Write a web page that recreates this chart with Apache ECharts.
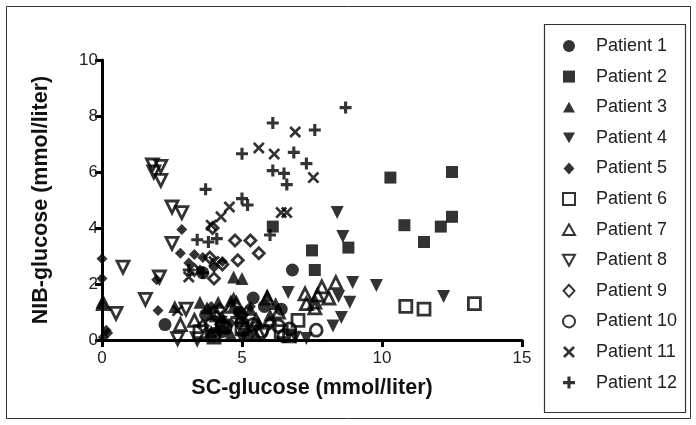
<!DOCTYPE html>
<html>
<head>
<meta charset="utf-8">
<script src="https://cdn.jsdelivr.net/npm/echarts@6/dist/echarts.min.js"></script>
<style>html,body{margin:0;padding:0;background:#fff}#c{width:696px;height:425px}</style>
</head>
<body>
<div id="c"></div>
<script>
const seriesNames = ['Patient 1','Patient 2','Patient 3','Patient 4','Patient 5','Patient 6','Patient 7','Patient 8','Patient 9','Patient 10','Patient 11','Patient 12'];
const xTicks = [0,5,10,15];
const yTicks = [0,2,4,6,8,10];

const p1 = [[2.25,0.55],[6.8,2.5],[5.4,1.5],[3.6,2.4],[4.9,1.0],[5.8,1.2],[4.3,0.3],[3.7,0.9],[5.2,0.2],[6.4,1.1]];
const p2 = [[6.1,4.05],[7.5,3.2],[7.6,2.5],[8.8,3.3],[10.3,5.8],[10.8,4.1],[11.5,3.5],[12.1,4.05],[12.5,4.4],[12.5,6.0]];
const p3 = [[0.0,1.35],[2.6,1.2],[3.5,1.35],[4.15,1.35],[4.6,1.4],[4.7,2.25],[5.0,2.2],[4.7,1.5],[3.75,1.15],[5.9,1.6],[5.3,1.1],[4.3,0.8],[6.2,1.3],[5.0,0.7],[3.9,0.3],[4.6,0.2],[5.5,0.2],[6.0,0.9],[4.4,0.45],[5.6,0.6]];
const p4 = [[8.4,4.55],[8.6,3.7],[8.95,2.05],[9.8,1.95],[8.45,1.55],[8.85,1.35],[8.55,0.8],[8.25,0.5],[6.65,1.7],[12.2,1.55],[7.3,0.05],[5.0,0.05],[4.0,0.1],[6.9,0.1]];
const p5 = [[0,2.9],[0,2.2],[0.15,0.35],[0.2,0.25],[0.05,0.1],[1.95,2.15],[2.0,1.05],[2.85,3.95],[2.8,3.1],[3.1,2.75],[3.5,2.5],[4.0,2.6],[4.3,2.8],[3.3,3.05],[3.9,1.2],[4.6,0.6],[5.3,1.2],[3.6,2.95]];
const p6 = [[10.85,1.2],[11.5,1.1],[13.3,1.3],[7.0,0.7],[6.7,0.15],[4.0,0.1],[6.4,0.3],[5.0,0.4],[3.5,0.3],[4.3,0.5]];
const p7 = [[0.05,1.3],[2.8,0.55],[3.3,0.7],[4.1,0.9],[4.6,1.2],[5.1,0.5],[5.9,1.5],[6.3,1.0],[7.25,1.65],[7.3,1.3],[7.6,1.15],[7.6,1.35],[7.7,1.6],[7.85,1.9],[8.1,1.5],[8.35,2.05],[5.5,0.7],[4.8,1.3]];
const p8 = [[1.8,6.25],[2.1,6.2],[1.85,6.0],[2.1,5.7],[2.5,4.75],[2.85,4.55],[2.5,3.45],[0.75,2.6],[2.05,2.25],[1.55,1.45],[0.5,0.95],[2.7,0.05],[3.4,0.05],[4.2,0.6],[5.8,0.3],[3.0,1.1]];
const p9 = [[3.95,4.0],[4.75,3.55],[5.3,3.55],[5.6,3.1],[4.85,2.85],[3.85,2.95],[4.3,2.7],[3.3,2.5],[4.0,2.2],[5.0,0.9],[5.5,0.5],[4.2,1.1],[6.0,0.6],[3.6,0.5]];
const p10 = [[7.65,0.35],[6.3,0.5],[5.4,0.55],[5.0,0.6],[4.4,0.45],[6.7,0.4],[5.7,0.3],[4.0,0.2],[6.5,0.15],[3.9,0.55]];
const p11 = [[6.9,7.43],[5.6,6.86],[6.15,6.64],[7.55,5.8],[6.4,4.55],[6.6,4.55],[4.55,4.75],[4.25,4.4],[3.9,4.1],[4.0,2.8],[3.1,2.25],[2.7,1.05],[5.0,1.0],[4.2,0.7]];
const p12 = [[8.7,8.3],[6.1,7.75],[7.6,7.5],[5.0,6.65],[6.85,6.7],[7.3,6.3],[6.1,6.05],[6.5,5.95],[6.6,5.55],[3.7,5.38],[5.0,5.05],[5.2,4.82],[6.0,3.75],[4.1,3.62],[3.4,3.58],[3.8,3.5],[3.1,2.5],[3.6,2.4],[4.8,0.8],[3.9,1.0]];

const allData = [p1,p2,p3,p4,p5,p6,p7,p8,p9,p10,p11,p12];

const RECT = 'path://M0,0 H10 V10 H0 Z';
const UP = 'path://M5,0 L10,9 L0,9 Z';
const DOWN = 'path://M0,0 L10,0 L5,9 Z';
const DIAM = 'path://M5,0 L10,5.5 L5,11 L0,5.5 Z';
const PLUS = 'path://M3.7,0 H6.3 V3.7 H10 V6.3 H6.3 V10 H3.7 V6.3 H0 V3.7 H3.7 Z';
const CROSS = 'path://M0,1.6 L1.6,0 L5,3.4 L8.4,0 L10,1.6 L6.6,5 L10,8.4 L8.4,10 L5,6.6 L1.6,10 L0,8.4 L3.4,5 Z';
const styles = [
  {symbol:'circle', size:13, open:false},
  {symbol:RECT, size:12, open:false},
  {symbol:UP, size:13, open:false},
  {symbol:DOWN, size:13, open:false},
  {symbol:DIAM, size:11, open:false},
  {symbol:RECT, size:12, open:true},
  {symbol:UP, size:12, open:true},
  {symbol:DOWN, size:12, open:true},
  {symbol:DIAM, size:11, open:true},
  {symbol:'circle', size:12, open:true},
  {symbol:CROSS, size:12, open:false},
  {symbol:PLUS, size:12, open:false}
];

const series = seriesNames.map((n,i)=>({
  name:n, type:'scatter', data:allData[i], clip:false,
  symbol:styles[i].symbol, symbolSize:styles[i].size,
  itemStyle: styles[i].open ? {color:'rgba(255,255,255,0)', borderColor:'#000', borderWidth:2.8} : {color:'#000', borderWidth:0},
  emphasis:{disabled:true}
}));

const chart = echarts.init(document.getElementById('c'), null, {renderer:'canvas'});
chart.setOption({
  animation:false,
  backgroundColor:'#fff',
  grid:{left:102, top:60, right:174, bottom:85, containLabel:false},
  xAxis:{type:'value', min:xTicks[0], max:xTicks[xTicks.length-1], interval:5,
    name:'SC-glucose (mmol/liter)', nameLocation:'middle', nameGap:37,
    nameTextStyle:{fontFamily:'Liberation Sans, Arial', fontWeight:'bold', fontSize:21.5, color:'#111'},
    axisLine:{lineStyle:{color:'#000', width:3}}, axisTick:{length:7, lineStyle:{color:'#000', width:3}},
    axisLabel:{fontFamily:'Liberation Sans, Arial', fontSize:17, color:'#222', margin:10},
    splitLine:{show:false}},
  yAxis:{type:'value', min:yTicks[0], max:yTicks[yTicks.length-1], interval:2,
    name:'NIB-glucose (mmol/liter)', nameLocation:'middle', nameGap:50,
    nameTextStyle:{fontFamily:'Liberation Sans, Arial', fontWeight:'bold', fontSize:21.5, color:'#111'},
    axisLine:{show:true, lineStyle:{color:'#000', width:3}}, axisTick:{show:true, length:7, lineStyle:{color:'#000', width:3}},
    axisLabel:{fontFamily:'Liberation Sans, Arial', fontSize:17, color:'#222', margin:4},
    splitLine:{show:false}},
  legend:{orient:'vertical', left:557, top:32, itemWidth:12, itemHeight:12, itemGap:12.6,
    selectedMode:false,
    textStyle:{fontFamily:'Liberation Sans, Arial', fontSize:18, color:'#222', lineHeight:18, padding:[0,0,0,16]},
    data:seriesNames},
  graphic:[
    {type:'rect', shape:{x:6.5, y:6.5, width:684, height:412}, style:{fill:'none', stroke:'#333', lineWidth:1}, silent:true},
    {type:'rect', shape:{x:544.5, y:24.5, width:141, height:388}, style:{fill:'none', stroke:'#333', lineWidth:1.2}, silent:true}
  ],
  series:series
});
</script>
</body>
</html>
